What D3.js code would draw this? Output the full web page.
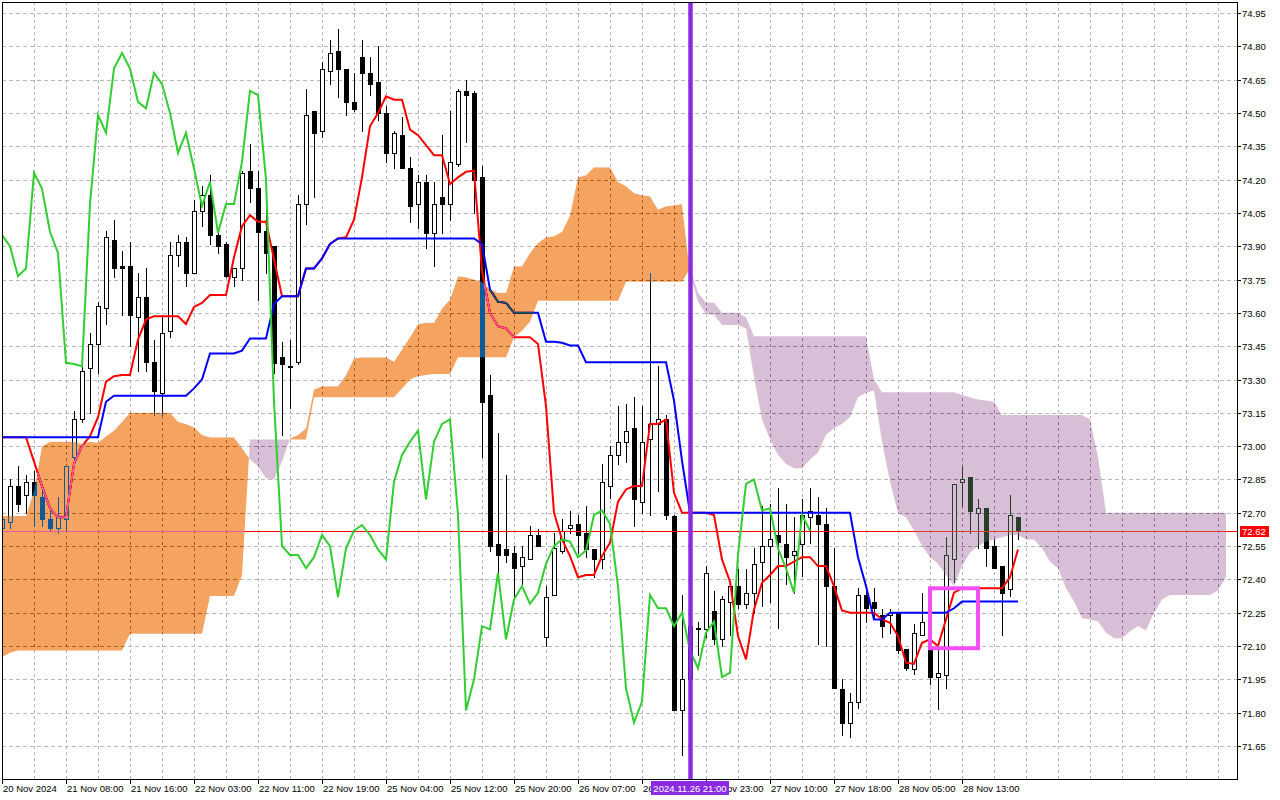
<!DOCTYPE html>
<html>
<head>
<meta charset="utf-8">
<title>Ichimoku H1</title>
<script src="https://cdn.jsdelivr.net/npm/d3@7"></script>
<style>
  html, body { margin: 0; padding: 0; background: #fff; }
  #chartContainer { width: 1280px; height: 800px; }
  svg { display: block; font-family: "Liberation Sans", Arial, sans-serif; }
</style>
</head>
<body>
<div id="chartContainer"></div>
<script>
// H1 candles, bar 0 = first bar on 20 Nov 2024
var opens = [
 72.63,72.66,72.82,72.78,72.84,72.77,72.67,72.63,72.67,72.95,73.12,73.35,73.46,73.62,73.93,73.81,
 73.81,73.58,73.67,73.38,73.24,73.52,73.86,73.92,73.78,74.06,74.13,73.95,73.91,73.76,73.80,74.24,
 74.16,73.97,73.90,73.40,73.36,73.38,74.09,74.51,74.42,74.69,74.78,74.70,74.55,74.75,74.68,74.64,
 74.50,74.32,74.40,74.25,74.09,74.19,73.96,74.12,74.09,74.27,74.60,74.59,74.21,73.23,72.56,72.535,
 72.52,72.46,72.49,72.60,72.14,72.33,72.53,72.63,72.65,72.61,72.535,72.49,72.82,72.96,73.02,73.08,
 72.75,73.03,73.10,73.12,72.685,71.81,71.95,72.18,72.175,72.26,72.13,72.30,72.37,72.29,72.34,72.48,
 72.55,72.60,72.56,72.51,72.56,72.68,72.69,72.65,72.37,71.905,71.755,71.85,72.33,72.30,72.24,72.24,
 72.25,72.085,71.995,72.15,72.08,71.96,71.97,72.49,72.84,72.86,72.70,72.72,72.55,72.46,72.355,72.68];
var highs = [
 72.69,72.85,72.91,72.87,72.89,72.82,72.72,72.77,72.91,73.16,73.36,73.51,73.65,73.97,74.02,73.88,
 73.92,73.78,73.80,73.48,73.58,73.92,73.95,73.94,74.11,74.17,74.22,73.97,73.92,73.80,74.24,74.36,
 74.24,74.07,73.90,73.47,73.48,74.13,74.61,74.51,74.73,74.83,74.88,74.70,74.68,74.83,74.75,74.80,
 74.53,74.42,74.48,74.30,74.22,74.22,74.19,74.40,74.51,74.61,74.65,74.60,74.26,73.32,73.06,72.87,
 72.55,72.55,72.64,72.625,72.37,72.61,72.67,72.71,72.69,72.73,72.535,72.92,73.00,73.18,73.19,73.22,
 73.18,73.78,73.36,73.14,72.69,72.33,72.24,72.21,72.46,72.35,72.325,72.39,72.445,72.445,72.54,72.73,
 72.74,72.81,72.74,72.68,72.76,72.81,72.77,72.72,72.54,71.95,71.89,72.36,72.36,72.36,72.265,72.265,
 72.25,72.085,72.20,72.34,72.08,72.08,72.59,72.83,72.91,72.86,72.76,72.72,72.58,72.46,72.78,72.68];
var lows = [
 72.60,72.63,72.71,72.70,72.64,72.64,72.62,72.61,72.62,72.91,73.11,73.15,73.33,73.55,73.76,73.59,
 73.45,73.34,73.34,73.14,73.14,73.49,73.81,73.72,73.78,73.99,73.91,73.87,73.76,73.72,73.75,74.10,
 73.66,73.78,73.33,73.05,73.17,73.37,74.00,74.12,74.39,74.63,74.57,74.49,74.51,74.42,74.58,74.47,
 74.28,74.25,74.25,74.01,73.98,73.89,73.81,73.96,74.02,74.26,74.37,74.05,72.95,72.53,72.43,72.48,
 72.32,72.38,72.49,72.55,72.10,72.33,72.52,72.61,72.52,72.50,72.41,72.45,72.765,72.92,72.93,72.64,
 72.70,72.69,72.80,72.67,71.81,71.61,71.93,72.06,72.14,72.11,72.10,72.15,72.27,72.27,72.25,72.28,
 72.30,72.18,72.38,72.34,72.415,72.565,72.11,72.10,71.91,71.70,71.69,71.82,72.21,72.22,72.14,72.16,
 72.07,71.99,71.975,72.15,71.93,71.815,71.91,72.39,72.73,72.61,72.54,72.46,72.45,72.15,72.325,72.58];
var closes = [
 72.67,72.82,72.74,72.84,72.78,72.67,72.63,72.68,72.91,73.12,73.34,73.46,73.63,73.94,73.80,73.80,
 73.59,73.67,73.38,73.25,73.51,73.86,73.92,73.78,74.06,74.13,73.95,73.90,73.765,73.80,74.23,74.16,
 73.965,73.87,73.375,73.37,73.36,74.09,74.49,74.41,74.70,74.77,74.70,74.55,74.52,74.68,74.63,74.50,
 74.32,74.41,74.25,74.08,74.19,73.96,74.09,74.09,74.28,74.60,74.58,74.20,73.20,72.55,72.51,72.51,
 72.45,72.50,72.60,72.55,72.32,72.54,72.62,72.645,72.60,72.535,72.49,72.84,72.96,73.02,73.07,72.76,
 73.02,73.10,73.12,72.69,71.81,71.95,72.19,72.175,72.43,72.13,72.31,72.37,72.29,72.34,72.47,72.55,
 72.58,72.57,72.50,72.53,72.69,72.71,72.65,72.37,71.91,71.755,71.85,72.33,72.27,72.27,72.19,72.25,
 72.08,72.00,72.16,72.21,71.96,71.98,72.51,72.83,72.85,72.71,72.72,72.54,72.45,72.34,72.69,72.62];

// indicator lines
var tenkan = [
 73.04,73.04,73.04,73.04,72.93,72.82,72.72,72.68,72.68,72.92,73.00,73.045,73.13,73.29,73.315,73.32,
 73.32,73.48,73.57,73.585,73.585,73.585,73.585,73.55,73.627,73.645,73.68,73.68,73.68,73.85,73.99,74.04,
 74.01,74.01,73.84,73.675,73.675,73.675,73.80,73.80,73.845,73.91,73.935,73.94,74.02,74.21,74.44,74.50,
 74.575,74.56,74.56,74.425,74.40,74.355,74.31,74.31,74.18,74.21,74.235,74.24,73.79,73.60,73.54,73.53,
 73.49,73.49,73.49,73.46,73.18,72.70,72.58,72.505,72.41,72.42,72.42,72.505,72.565,72.75,72.805,72.82,
 72.82,73.10,73.10,73.12,72.79,72.70,72.70,72.70,72.70,72.69,72.49,72.39,72.145,72.04,72.265,72.385,
 72.42,72.46,72.46,72.48,72.50,72.50,72.46,72.46,72.37,72.26,72.25,72.25,72.25,72.25,72.22,72.205,
 72.145,72.025,72.02,72.115,72.13,72.10,72.22,72.34,72.36,72.36,72.36,72.36,72.36,72.36,72.41,72.535];
var kijun = [
 73.04,73.04,73.04,73.04,73.04,73.04,73.04,73.04,73.04,73.04,73.04,73.04,73.04,73.20,73.227,73.227,
 73.227,73.227,73.227,73.227,73.227,73.227,73.227,73.227,73.26,73.30,73.417,73.417,73.417,73.417,73.43,73.485,
 73.485,73.485,73.64,73.675,73.675,73.675,73.80,73.80,73.845,73.91,73.935,73.935,73.935,73.935,73.935,73.935,
 73.935,73.935,73.935,73.935,73.935,73.935,73.935,73.935,73.935,73.935,73.935,73.935,73.91,73.705,73.65,73.645,
 73.60,73.60,73.60,73.60,73.47,73.47,73.465,73.453,73.453,73.378,73.378,73.378,73.378,73.378,73.378,73.378,
 73.378,73.378,73.378,73.378,73.205,72.935,72.70,72.70,72.70,72.70,72.70,72.70,72.70,72.70,72.70,72.70,
 72.70,72.70,72.70,72.70,72.70,72.70,72.70,72.70,72.70,72.70,72.70,72.50,72.37,72.22,72.22,72.25,
 72.25,72.25,72.25,72.25,72.25,72.25,72.25,72.27,72.30,72.30,72.30,72.30,72.30,72.30,72.30,72.30];
var spanA = [
 72.685,72.685,72.685,72.685,72.80,73.00,73.02,73.02,73.02,73.02,73.01,73.02,73.015,73.045,73.07,73.11,
 73.15,73.15,73.15,73.15,73.15,73.15,73.11,73.10,73.085,73.05,73.04,73.04,73.04,73.04,72.99,72.94,
 72.91,72.855,72.85,72.93,73.035,73.05,73.08,73.255,73.27,73.27,73.27,73.32,73.395,73.40,73.40,73.40,
 73.40,73.38,73.435,73.49,73.55,73.555,73.555,73.62,73.66,73.765,73.76,73.75,73.74,73.705,73.69,73.69,
 73.81,73.81,73.87,73.915,73.94,73.945,73.965,74.04,74.21,74.22,74.255,74.255,74.255,74.19,74.17,74.14,
 74.13,74.125,74.065,74.08,74.085,74.09,73.78,73.65,73.595,73.59,73.545,73.545,73.545,73.53,73.31,73.12,
 73.03,72.96,72.92,72.90,72.90,72.94,72.97,73.05,73.08,73.10,73.13,73.22,73.24,73.25,73.02,72.84,
 72.70,72.68,72.62,72.55,72.50,72.47,72.42,72.37,72.46,72.52,72.55,72.57,72.58,72.59,72.60,72.60,
 72.58,72.58,72.54,72.48,72.45,72.36,72.30,72.225,72.22,72.21,72.16,72.135,72.135,72.165,72.19,72.17,
 72.25,72.31,72.33,72.33,72.33,72.33,72.33,72.33,72.35,72.41];
var spanB = [
 72.05,72.07,72.08,72.08,72.08,72.08,72.08,72.08,72.08,72.08,72.08,72.08,72.08,72.08,72.08,72.08,
 72.155,72.155,72.155,72.155,72.155,72.155,72.155,72.155,72.155,72.155,72.325,72.325,72.325,72.325,72.42,73.03,
 73.03,73.03,73.03,73.03,73.03,73.03,73.03,73.22,73.22,73.22,73.22,73.22,73.22,73.22,73.22,73.22,
 73.22,73.22,73.26,73.30,73.315,73.32,73.325,73.325,73.325,73.40,73.40,73.40,73.40,73.40,73.40,73.40,
 73.49,73.52,73.56,73.655,73.655,73.655,73.655,73.655,73.655,73.655,73.655,73.655,73.655,73.655,73.74,73.74,
 73.74,73.74,73.74,73.74,73.74,73.74,73.80,73.69,73.645,73.645,73.60,73.60,73.60,73.58,73.495,73.495,
 73.495,73.495,73.495,73.495,73.495,73.495,73.495,73.495,73.495,73.495,73.495,73.495,73.495,73.30,73.243,73.243,
 73.243,73.243,73.243,73.243,73.243,73.243,73.243,73.243,73.23,73.22,73.21,73.205,73.20,73.14,73.14,73.14,
 73.14,73.14,73.14,73.14,73.14,73.14,73.14,73.14,73.12,72.95,72.70,72.70,72.70,72.70,72.70,72.70,
 72.70,72.70,72.70,72.70,72.70,72.70,72.70,72.70,72.70,72.70];
var chikouShift = 26;

var priceLabels = ["74.95","74.80","74.65","74.50","74.35","74.20","74.05","73.90","73.75","73.60","73.45","73.30",
                   "73.15","73.00","72.85","72.70","72.55","72.40","72.25","72.10","71.95","71.80","71.65"];
var timeBars = [0,8,16,24,32,40,48,56,64,72,80,88,96,104,112,120];
var timeLabels = ["20 Nov 2024","21 Nov 08:00","21 Nov 16:00","22 Nov 03:00","22 Nov 11:00","22 Nov 19:00",
                  "25 Nov 04:00","25 Nov 12:00","25 Nov 20:00","26 Nov 07:00","26 Nov 15:00","26 Nov 23:00",
                  "27 Nov 10:00","27 Nov 18:00","28 Nov 05:00","28 Nov 13:00"];
var lastPrice = 72.62;
var markBar = 86, markLabel = "2024.11.26 21:00";
var boxBars = [116, 122], boxPrices = [72.36, 72.09];

function drawChart(){
	var W = 1280, H = 800;
	var left = 2, right = 1237, top = 2, bottom = 779;
	var fontSize = '9.5px';

	var svg = d3.select('#chartContainer').append('svg')
		.attr('width', W)
		.attr('height', H);
	svg.append('rect').attr('width', W).attr('height', H).attr('fill', '#fff');

	var x = d3.scaleLinear().domain([0, 153]).range([2, 1226]);
	var y = d3.scaleLinear().domain([71.65, 74.95]).range([746, 13]);

	var defs = svg.append('defs');
	defs.append('clipPath').attr('id', 'plotClip')
		.append('rect').attr('x', left).attr('y', top)
		.attr('width', right - left).attr('height', bottom - top);

	var plot = svg.append('g').attr('clip-path', 'url(#plotClip)');
	// white backdrop inside the clipped group so the cloud blend has something to work on
	plot.append('rect').attr('x', left).attr('y', top)
		.attr('width', right - left).attr('height', bottom - top).attr('fill', '#fff');

	// grid
	plot.selectAll('line.vgrid')
		.data(d3.range(0, 154, 4))
		.enter().append('line')
		.attr('class', 'vgrid')
		.attr('x1', function(d){ return x(d) + 0.5; })
		.attr('x2', function(d){ return x(d) + 0.5; })
		.attr('y1', top).attr('y2', bottom)
		.attr('stroke', '#bcaebd').attr('stroke-dasharray', '3,3');
	plot.selectAll('line.hgrid')
		.data(priceLabels)
		.enter().append('line')
		.attr('class', 'hgrid')
		.attr('x1', left).attr('x2', right)
		.attr('y1', function(d){ return Math.round(y(+d)) + 0.5; })
		.attr('y2', function(d){ return Math.round(y(+d)) + 0.5; })
		.attr('stroke', '#b2bcb2').attr('stroke-dasharray', '4,3');

	// candles
	var bars = d3.range(closes.length);
	var cg = plot.append('g');
	cg.selectAll('line.wick')
		.data(bars)
		.enter().append('line')
		.attr('x1', function(i){ return x(i) + 0.5; })
		.attr('x2', function(i){ return x(i) + 0.5; })
		.attr('y1', function(i){ return Math.round(y(highs[i])); })
		.attr('y2', function(i){ return Math.round(y(lows[i])) + 1; })
		.attr('stroke', '#000');
	cg.selectAll('rect.body')
		.data(bars)
		.enter().append('rect')
		.attr('x', function(i){ return x(i) - 1.5; })
		.attr('width', 4)
		.attr('y', function(i){ return Math.round(y(Math.max(opens[i], closes[i]))) + 0.5; })
		.attr('height', function(i){
			var h = Math.round(y(Math.min(opens[i], closes[i]))) - Math.round(y(Math.max(opens[i], closes[i])));
			return Math.max(1, h);
		})
		.attr('fill', function(i){ return closes[i] > opens[i] ? '#fff' : '#000'; })
		.attr('stroke', '#000');

	var line = d3.line()
		.x(function(d){ return x(d[0]); })
		.y(function(d){ return y(d[1]); });

	plot.append('path')
		.datum(tenkan.map(function(v, i){ return [i, v]; }))
		.attr('d', line).attr('fill', 'none')
		.attr('stroke', '#ff0000').attr('stroke-width', 2);
	plot.append('path')
		.datum(kijun.map(function(v, i){ return [i, v]; }))
		.attr('d', line).attr('fill', 'none')
		.attr('stroke', '#0000ff').attr('stroke-width', 2);

	// bid line
	var py = Math.round(y(lastPrice)) + 0.5;
	plot.append('line')
		.attr('x1', left).attr('x2', right).attr('y1', py).attr('y2', py)
		.attr('stroke', '#ff0000');

	// kumo, drawn the MT4 way (inverting what lies under it)
	var cloudPts = spanA.map(function(a, i){ return {i: i, a: a, b: spanB[i]}; });
	var between = d3.area()
		.x(function(d){ return x(d.i); })
		.y0(function(d){ return y(d.b); })
		.y1(function(d){ return y(d.a); });
	var belowA = d3.area()
		.x(function(d){ return x(d.i); })
		.y0(bottom)
		.y1(function(d){ return y(d.a); });
	var aboveA = d3.area()
		.x(function(d){ return x(d.i); })
		.y0(top)
		.y1(function(d){ return y(d.a); });
	defs.append('clipPath').attr('id', 'bullClip').append('path').attr('d', belowA(cloudPts));
	defs.append('clipPath').attr('id', 'bearClip').append('path').attr('d', aboveA(cloudPts));

	var cloud = plot.append('g').style('mix-blend-mode', 'difference');
	cloud.append('path')
		.attr('d', between(cloudPts))
		.attr('fill', '#0b5b9f')        // white -> sandy brown
		.attr('clip-path', 'url(#bullClip)');
	cloud.append('path')
		.attr('d', between(cloudPts))
		.attr('fill', '#274027')        // white -> thistle
		.attr('clip-path', 'url(#bearClip)');

	// chikou = closes drawn 26 bars back
	plot.append('path')
		.datum(closes.slice(chikouShift).map(function(c, k){ return [k, c]; }))
		.attr('d', line).attr('fill', 'none')
		.attr('stroke', '#32cd32').attr('stroke-width', 2);

	// objects
	plot.append('line')
		.attr('x1', x(markBar) + 0.5).attr('x2', x(markBar) + 0.5)
		.attr('y1', top).attr('y2', bottom)
		.attr('stroke', '#8a2be2').attr('stroke-width', 4.5);
	plot.append('rect')
		.attr('x', x(boxBars[0])).attr('y', y(boxPrices[0]))
		.attr('width', x(boxBars[1]) - x(boxBars[0]))
		.attr('height', y(boxPrices[1]) - y(boxPrices[0]))
		.attr('fill', 'none').attr('stroke', '#f54ef5').attr('stroke-width', 4);

	// frame
	svg.append('rect')
		.attr('x', left + 0.5).attr('y', top + 0.5)
		.attr('width', right - left).attr('height', bottom - top)
		.attr('fill', 'none').attr('stroke', '#000');

	// price scale
	var pAxis = svg.append('g');
	pAxis.selectAll('line')
		.data(priceLabels)
		.enter().append('line')
		.attr('x1', right).attr('x2', right + 4)
		.attr('y1', function(d){ return Math.round(y(+d)) + 0.5; })
		.attr('y2', function(d){ return Math.round(y(+d)) + 0.5; })
		.attr('stroke', '#000');
	pAxis.selectAll('text')
		.data(priceLabels)
		.enter().append('text')
		.attr('x', right + 5)
		.attr('y', function(d){ return Math.round(y(+d)) + 1; })
		.attr('dominant-baseline', 'middle')
		.style('font-size', fontSize)
		.text(function(d){ return d; });

	svg.append('rect')
		.attr('x', right + 3).attr('y', py - 5.5)
		.attr('width', 29).attr('height', 11)
		.attr('fill', '#ff0000');
	svg.append('text')
		.attr('x', right + 5).attr('y', py + 0.5)
		.attr('dominant-baseline', 'middle')
		.attr('fill', '#fff')
		.style('font-size', fontSize)
		.text(lastPrice.toFixed(2));

	// time scale
	var markL = x(markBar) - 39, markR = x(markBar) + 39;
	var tAxis = svg.append('g');
	tAxis.selectAll('line')
		.data(timeBars)
		.enter().append('line')
		.attr('x1', function(d){ return x(d) + 0.5; })
		.attr('x2', function(d){ return x(d) + 0.5; })
		.attr('y1', bottom).attr('y2', bottom + 5)
		.attr('stroke', '#000');
	tAxis.selectAll('text')
		.data(timeBars)
		.enter().append('text')
		.attr('x', function(d){ return x(d) + 1; })
		.attr('y', 792)
		.style('font-size', fontSize)
		.text(function(d, i){ return timeLabels[i]; })
		.each(function(d){
			// labels under the marker tag only show the part that sticks out
			var x0 = x(d) + 1, s = this.textContent, n = s.length;
			if (x0 > markR || x0 + this.getComputedTextLength() < markL) return;
			var from = 0, to = n;
			for (var k = 0; k < n; k++) {
				var a = x0 + this.getSubStringLength(0, k);
				if (x0 < markL) { if (a >= markL - 1) { to = k; break; } }
				else if (a < markR - 2) { from = k + 1; }
			}
			var shift = from > 0 ? this.getSubStringLength(0, from) : 0;
			d3.select(this).attr('x', x0 + shift).text(s.slice(from, to).trim());
		});

	tAxis.append('rect')
		.attr('x', markL).attr('y', 781)
		.attr('width', 78).attr('height', 14)
		.attr('fill', '#8a2be2');
	tAxis.append('text')
		.attr('x', x(markBar)).attr('y', 792)
		.attr('text-anchor', 'middle')
		.attr('fill', '#fff')
		.style('font-size', fontSize)
		.text(markLabel);
}

drawChart();
</script>
</body>
</html>
